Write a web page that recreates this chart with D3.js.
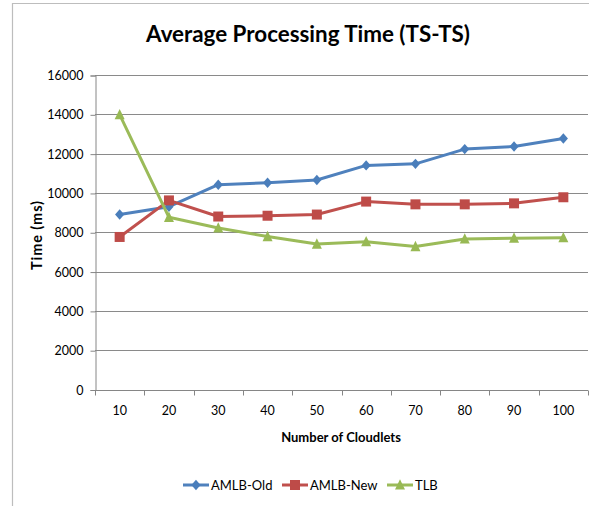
<!DOCTYPE html>
<html>
<head>
<meta charset="utf-8">
<script src="https://cdn.jsdelivr.net/npm/d3@7"></script>
<style>
  html, body { margin: 0; padding: 0; background: #fff; }
  svg { display: block; }
  text { font-family: Lato, "Liberation Sans", sans-serif; fill: #000; }
</style>
</head>
<body>
<svg id="chart" width="589" height="506"></svg>
<script>
// Number of cloudlets on the x axis
const categories = ["10", "20", "30", "40", "50", "60", "70", "80", "90", "100"];
// Average processing time (ms) for each algorithm
const amlbOld = [8900, 9300, 10420, 10520, 10660, 11400, 11480, 12230, 12360, 12770];
const amlbNew = [7760, 9620, 8800, 8840, 8900, 9560, 9420, 9420, 9470, 9780];
const tlb     = [13980, 8760, 8220, 7780, 7400, 7520, 7270, 7660, 7700, 7720];
const yTicks = [0, 2000, 4000, 6000, 8000, 10000, 12000, 14000, 16000];

const series = [
  { name: "AMLB-Old", values: amlbOld, line: "#4F81BD", fill: "#4A7EBB", shape: "diamond" },
  { name: "AMLB-New", values: amlbNew, line: "#C0504D", fill: "#BE4B48", shape: "square" },
  { name: "TLB",      values: tlb,     line: "#9BBB59", fill: "#98B954", shape: "triangle" }
];

const svg = d3.select("#chart");
const plot = { left: 95, right: 588, top: 75, bottom: 389.5 };

// Outer chart frame (top and left edges)
svg.append("path")
  .attr("d", "M12.5,506 V3.5 H589")
  .attr("fill", "none").attr("stroke", "#bdbdbd").attr("stroke-width", 1.2);

const x = d3.scaleBand().domain(categories).range([plot.left, plot.right]).padding(0);
const y = d3.scaleLinear().domain([0, 16000]).range([plot.bottom, plot.top]);
const cx = d => x(d) + x.bandwidth() / 2;

// Horizontal gridlines
svg.append("g").selectAll("line").data(yTicks.filter(t => t > 0)).join("line")
  .attr("x1", plot.left).attr("x2", plot.right)
  .attr("y1", d => Math.round(y(d)) + 0.5).attr("y2", d => Math.round(y(d)) + 0.5)
  .attr("stroke", "#8a8a8a").attr("stroke-width", 1);

// Y axis
const yAxis = svg.append("g")
  .attr("transform", `translate(${plot.left + 0.5},0.5)`)
  .call(d3.axisLeft(y).tickValues(yTicks).tickSize(5).tickPadding(7).tickFormat(d3.format("d")));
yAxis.select(".domain").attr("stroke", "#868686");
yAxis.selectAll(".tick line").attr("stroke", "#868686");
yAxis.selectAll("text").attr("font-size", 12.5).style("font-family", null);

// X axis: labels centred in each band, ticks on band boundaries
const xAxis = svg.append("g")
  .attr("transform", `translate(0,${Math.round(plot.bottom) + 0.5})`)
  .call(d3.axisBottom(x).tickSize(0).tickPadding(16));
xAxis.select(".domain").attr("d", `M${plot.left},0H${plot.right}`).attr("stroke", "#868686");
xAxis.selectAll("text").attr("font-size", 12.5).style("font-family", null);
const bounds = categories.map(c => x(c)).concat([plot.right]);
xAxis.append("g").selectAll("line").data(bounds).join("line")
  .attr("x1", d => Math.round(d) + 0.5).attr("x2", d => Math.round(d) + 0.5)
  .attr("y1", 0).attr("y2", 5).attr("stroke", "#868686");

// Marker shapes
const shapes = {
  diamond: {
    draw(ctx, s) { ctx.moveTo(0, -5.2); ctx.lineTo(4.6, 0); ctx.lineTo(0, 5.2); ctx.lineTo(-4.6, 0); ctx.closePath(); }
  },
  square: {
    draw(ctx, s) { ctx.rect(-5, -5, 10, 10); }
  },
  triangle: {
    draw(ctx, s) { ctx.moveTo(0, -5.8); ctx.lineTo(5, 4.6); ctx.lineTo(-5, 4.6); ctx.closePath(); }
  }
};

const line = d3.line().x((v, i) => cx(categories[i])).y(v => y(v));

series.forEach(s => {
  const g = svg.append("g");
  g.append("path").datum(s.values)
    .attr("d", line).attr("fill", "none")
    .attr("stroke", s.line).attr("stroke-width", 3).attr("stroke-linejoin", "round");
  g.selectAll("path.m").data(s.values).join("path").attr("class", "m")
    .attr("transform", (v, i) => `translate(${cx(categories[i])},${y(v)})`)
    .attr("d", d3.symbol(shapes[s.shape])())
    .attr("fill", s.fill);
});

// Title
const title = svg.append("text")
  .attr("x", 308).attr("y", 42).attr("text-anchor", "middle")
  .attr("font-weight", "bold").attr("font-size", 24)
  .text("Average Processing Time (TS-TS)");
const tw = title.node().getComputedTextLength();
title.attr("font-size", 24 * 324 / tw);

// Axis titles
svg.append("text")
  .attr("x", 341).attr("y", 442).attr("text-anchor", "middle")
  .attr("font-weight", "bold").attr("font-size", 13)
  .text("Number of Cloudlets");
svg.append("text")
  .attr("transform", "translate(42,235) rotate(-90)").attr("text-anchor", "middle")
  .attr("font-weight", "bold").attr("font-size", 14.5).attr("letter-spacing", 0.9)
  .text("Time (ms)");

// Legend
const legendX = [183, 282, 387];
const legend = svg.append("g");
series.forEach((s, i) => {
  const g = legend.append("g").attr("transform", `translate(${legendX[i]},485)`);
  g.append("line").attr("x1", 0).attr("x2", 26).attr("y1", 0).attr("y2", 0)
    .attr("stroke", s.line).attr("stroke-width", 3);
  g.append("path").attr("transform", "translate(13,0)")
    .attr("d", d3.symbol(shapes[s.shape])()).attr("fill", s.fill);
  g.append("text").attr("x", 28).attr("y", 5).attr("font-size", 13).text(s.name);
});
</script>
</body>
</html>
